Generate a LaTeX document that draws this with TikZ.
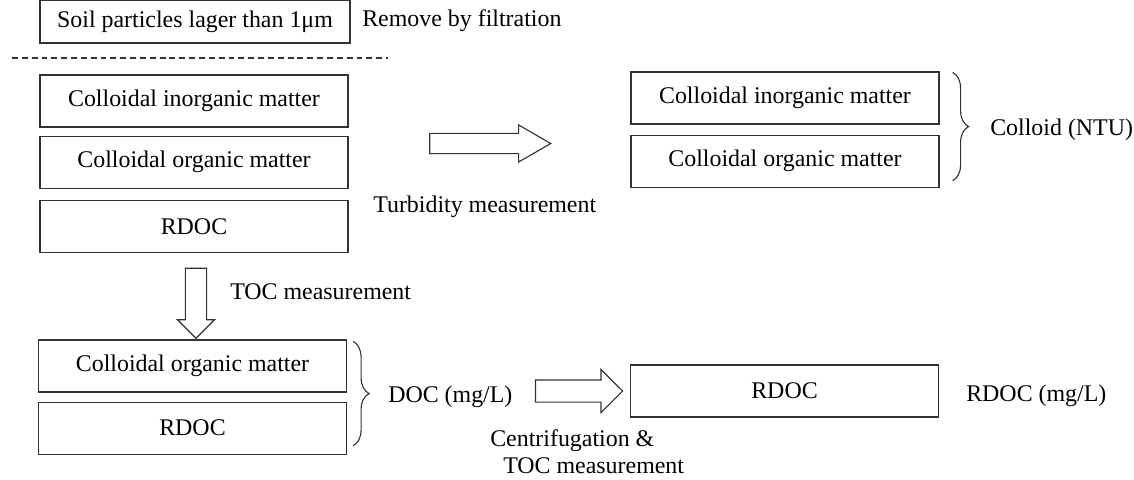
\documentclass[tikz,border=0pt]{standalone}
\usepackage{fontspec}
\setmainfont{Liberation Serif}
\usetikzlibrary{positioning,shapes.arrows,decorations.pathreplacing}

\tikzset{
	layer/.style={draw=black!80, line width=0.8pt, rectangle, minimum width=7.7cm, minimum height=1.3cm, inner sep=0pt},
	note/.style={anchor=west, inner sep=0pt},
	blockarrow/.style={draw=black!80, line width=0.8pt, single arrow, fill=white, minimum width=0pt},
	curly/.style={draw=black!80, line width=0.8pt, decorate, decoration={brace, amplitude=0.4cm}}
}

\begin{document}
\begin{tikzpicture}[x=0.025cm, y=-0.025cm, font=\fontsize{17}{20}\selectfont]
			\useasboundingbox (0,0) rectangle (1134,480);
			% removed fraction
			\node[layer, minimum width=7.75cm, minimum height=1.075cm] (soil) at (195,21.5) {Soil particles lager than 1μm};
			\node[note] (filt) at (362,21) {Remove by filtration};
			\draw[black!80, line width=1pt, dash pattern=on 4.2pt off 2.8pt] (12,58) -- (388,58);
			% sample
			\node[layer] (ci1) at (194,101) {Colloidal inorganic matter};
			\node[layer, below=0.2cm of ci1] (co1) {Colloidal organic matter};
			\node[layer, below=0.275cm of co1] (rd1) {RDOC};
			% turbidity
			\node[blockarrow, minimum height=3.025cm, inner sep=0.2375cm, single arrow head extend=0.2125cm, single arrow tip angle=60] (turbarrow) at (481.5,143.5) {};
			\node[note] (turb) at (373,207) {Turbidity measurement};
			\node[layer] (ci2) at (785,98) {Colloidal inorganic matter};
			\node[layer, below=0.25cm of ci2] (co3) {Colloidal organic matter};
			\draw[curly] ([shift={(13,1)}]ci2.north east) -- ([shift={(13,-7)}]co3.south east);
			\node[note] (colnt) at (990,130) {Colloid (NTU)};
			% TOC
			\node[blockarrow, minimum height=1.75cm, inner sep=0.25cm, single arrow head extend=0.2cm, single arrow tip angle=90, shape border rotate=270] (tocarrow) at (196,298) {};
			\node[note] (tocm) at (230,292) {TOC measurement};
			\node[layer] (co2) at (192.5,366) {Colloidal organic matter};
			\node[layer, below=0.225cm of co2] (rd2) {RDOC};
			\draw[curly] ([shift={(6,2)}]co2.north east) -- ([shift={(6,-9)}]rd2.south east);
			\node[note] (docm) at (388,397) {DOC (mg/L)};
			% centrifugation
			\node[blockarrow, minimum height=2.175cm, inner sep=0.2625cm, single arrow head extend=0.2625cm, single arrow tip angle=90] (cenarrow) at (573.5,391) {};
			\node[layer] (rd3) at (784.5,391) {RDOC};
			\node[note] (rdm) at (966,396) {RDOC (mg/L)};
			\node[note] (cent1) at (490,441) {Centrifugation \&};
			\node[note] (cent2) at (503,466) {TOC measurement};
		\end{tikzpicture}
\end{document}
